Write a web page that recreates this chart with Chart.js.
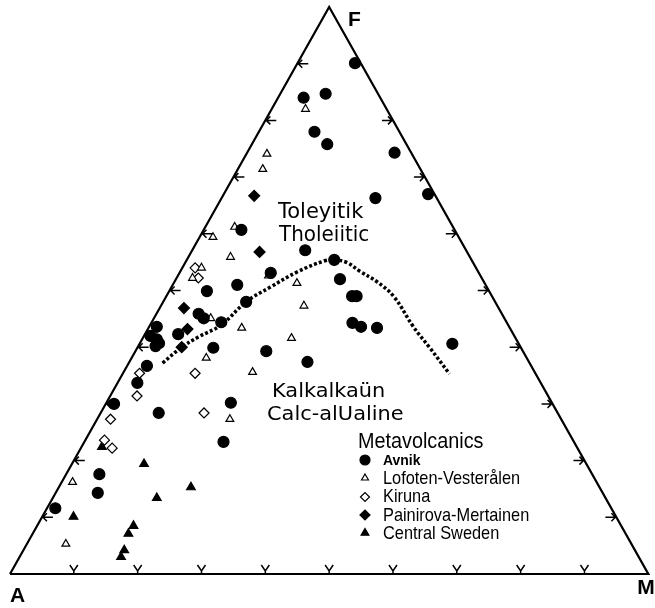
<!DOCTYPE html>
<html>
<head>
<meta charset="utf-8">
<script src="https://cdn.jsdelivr.net/npm/chart.js@4/dist/chart.umd.min.js"></script>
<style>
  html, body { margin: 0; padding: 0; background: #fff; }
</style>
</head>
<body>
<canvas id="chart" width="655" height="608"></canvas>
<script>
// AFM ternary values, percent (A = 100 - F - M)
const seriesNames = ['Avnik', 'Lofoten-Vesterålen', 'Kiruna', 'Painirova-Mertainen', 'Central Sweden'];

const avnikF = [90.1,84.0,84.7,78.0,75.8,74.3,67.0,66.3,57.1,55.4,52.0,49.0,49.0,44.3,43.6,43.4,40.6,60.7,53.1,51.0,49.9,48.0,45.9,45.1,44.4,42.3,43.6,42.0,41.4,40.7,40.2,39.9,36.7,39.3,37.4,33.7,30.0,28.4,30.2,23.3,17.6,14.3,11.6];
const avnikM = [9.0,4.0,7.1,8.7,11.8,23.1,32.0,24.1,17.7,23.1,25.7,29.1,29.8,31.5,33.2,35.8,49.0,5.9,14.3,10.1,5.9,13.0,6.6,7.8,10.9,5.2,1.2,1.0,2.3,3.0,2.7,11.9,3.1,20.5,27.9,3.1,1.3,9.1,19.5,21.8,5.2,6.6,1.3];

const lofotenF = [82.0,74.1,71.4,61.2,59.4,55.9,54.0,52.2,52.6,51.3,47.3,45.1,43.4,41.6,38.1,35.6,27.3,16.2,5.3];
const lofotenM = [5.3,3.2,3.9,4.6,2.1,6.6,3.0,2.5,14.2,19.3,22.4,8.9,14.6,23.3,11.7,20.2,20.8,1.7,6.1];

const kirunaF = [54.0,52.2,35.4,35.4,31.4,28.4,27.3,23.6,22.2];
const kirunaM = [2.0,3.4,11.3,2.6,4.2,16.2,2.1,3.0,4.9];

const painirovaF = [66.7,56.8,46.9,43.2,40.0];
const painirovaM = [4.9,10.7,3.8,6.2,6.9];

const centralF = [22.4,19.4,15.3,13.4,10.1,8.5,7.1,4.2,3.0];
const centralM = [3.2,11.3,20.7,16.3,4.9,15.1,15.0,15.8,15.9];

// tholeiitic / calc-alkaline dividing line
const boundaryF = [37.2,40.0,41.8,43.9,48.0,50.6,53.3,55.2,55.4,54.9,53.4,51.5,48.9,43.6,40.0,35.3];
const boundaryM = [5.3,6.9,8.6,11.1,13.0,15.5,18.4,21.6,23.1,25.4,28.1,31.8,35.7,41.4,45.7,51.2];

const tickPct = [10, 20, 30, 40, 50, 60, 70, 80, 90];
const cornerLabels = ['A', 'F', 'M'];

// ternary -> cartesian (x along the A-M base, y = F)
function toXY(fArr, mArr) {
    return fArr.map((f, i) => ({ x: mArr[i] + f / 2, y: f }));
}

const canvas = document.querySelector('#chart');

const pointStyles = [
    { pointStyle: 'circle', radius: 5.5, fill: '#000' },
    { pointStyle: 'triangle', radius: 4.5, fill: '#fff' },
    { pointStyle: 'rectRot', radius: 5, fill: '#fff' },
    { pointStyle: 'rectRot', radius: 5.5, fill: '#000' },
    { pointStyle: 'triangle', radius: 5, fill: '#000' }
];

const seriesData = [
    toXY(avnikF, avnikM),
    toXY(lofotenF, lofotenM),
    toXY(kirunaF, kirunaM),
    toXY(painirovaF, painirovaM),
    toXY(centralF, centralM)
];

const pointSets = seriesNames.map((name, i) => ({
    label: name,
    data: seriesData[i],
    pointStyle: pointStyles[i].pointStyle,
    pointRadius: pointStyles[i].radius,
    pointBackgroundColor: pointStyles[i].fill,
    pointBorderColor: '#000',
    pointBorderWidth: 1.2,
    showLine: false,
    clip: false
}));

const labelsPlugin = {
    id: 'ternaryText',
    afterDatasetsDraw(chart) {
        const { ctx, scales: { x, y } } = chart;
        ctx.save();
        ctx.strokeStyle = '#000';
        ctx.lineWidth = 1.5;
        tickPct.forEach(v => {
            // base ticks
            let px = x.getPixelForValue(v);
            let py = y.getPixelForValue(0);
            ctx.beginPath();
            ctx.moveTo(px - 4, py - 9);
            ctx.lineTo(px, py - 3);
            ctx.lineTo(px + 4, py - 9);
            ctx.moveTo(px, py - 3);
            ctx.lineTo(px, py);
            ctx.stroke();
            // A-F side
            px = x.getPixelForValue(v / 2);
            py = y.getPixelForValue(v);
            ctx.beginPath();
            ctx.moveTo(px + 11, py);
            ctx.lineTo(px, py);
            ctx.moveTo(px + 5, py - 4);
            ctx.lineTo(px + 1, py);
            ctx.lineTo(px + 5, py + 4);
            ctx.stroke();
            // F-M side
            px = x.getPixelForValue(100 - v / 2);
            ctx.beginPath();
            ctx.moveTo(px - 11, py);
            ctx.lineTo(px, py);
            ctx.moveTo(px - 5, py - 4);
            ctx.lineTo(px - 1, py);
            ctx.lineTo(px - 5, py + 4);
            ctx.stroke();
        });

        ctx.fillStyle = '#000';
        ctx.textBaseline = 'alphabetic';
        function txt(s, tx, ty, font, sx) {
            ctx.save();
            ctx.font = font;
            ctx.translate(tx, ty);
            ctx.scale(sx || 1, 1);
            ctx.fillText(s, 0, 0);
            ctx.restore();
        }
        const area = chart.chartArea;
        txt(cornerLabels[0], area.left, area.bottom + 28, 'bold 21px "Liberation Sans"');
        txt(cornerLabels[1], area.left + 338, area.top + 19, 'bold 21px "Liberation Sans"');
        txt(cornerLabels[2], area.right - 11, area.bottom + 20, 'bold 21px "Liberation Sans"');

        txt('Toleyitik', 278, 218, '21px "DejaVu Sans"');
        txt('Tholeiitic', 279, 241, '21px "DejaVu Sans"', 0.95);
        txt('Kalkalkaün', 272, 397, '19px "DejaVu Sans"', 1.1);
        txt('Calc-alUaline', 267, 420, '19px "DejaVu Sans"', 1.1);
        txt('Metavolcanics', 358, 448, '22px "Liberation Sans"', 0.9);

        // legend
        const rowY = [460, 478, 497, 515, 533];
        const textY = [465, 484, 502, 521, 539];
        seriesNames.forEach((name, i) => {
            ctx.fillStyle = pointStyles[i].fill;
            ctx.strokeStyle = '#000';
            ctx.lineWidth = 1.2;
            Chart.helpers.drawPoint(ctx, {
                pointStyle: pointStyles[i].pointStyle,
                radius: i === 1 ? 4 : pointStyles[i].radius - 0.5,
                rotation: 0,
                borderWidth: 1.2
            }, 365, rowY[i]);
            ctx.fillStyle = '#000';
            if (i === 0) {
                txt(name, 383, textY[i], 'bold 15px "Liberation Sans"', 0.93);
            } else {
                txt(name, 383, textY[i], '19px "Liberation Sans"', 0.86);
            }
        });
        ctx.restore();
    }
};

new Chart(canvas, {
    type: 'scatter',
    data: {
        datasets: [
            ...pointSets,
            {
                label: 'boundary',
                data: toXY(boundaryF, boundaryM),
                showLine: true,
                borderColor: '#000',
                borderWidth: 3.5,
                borderDash: [3, 2.2],
                tension: 0.4,
                pointRadius: 0,
                clip: false
            },
            {
                label: 'frame',
                data: [{ x: 0, y: 0 }, { x: 50, y: 100 }, { x: 100, y: 0 }, { x: 0, y: 0 }],
                showLine: true,
                borderColor: '#000',
                borderWidth: 2.2,
                pointRadius: 0,
                tension: 0,
                clip: false
            }
        ]
    },
    options: {
        responsive: false,
        animation: false,
        events: [],
        layout: {
            padding: { left: 10, right: 1, top: 7, bottom: 34 }
        },
        scales: {
            x: { type: 'linear', min: 0, max: 100, display: false },
            y: { type: 'linear', min: 0, max: 100, display: false }
        },
        plugins: {
            legend: { display: false },
            tooltip: { enabled: false }
        }
    },
    plugins: [labelsPlugin]
});
</script>
</body>
</html>
